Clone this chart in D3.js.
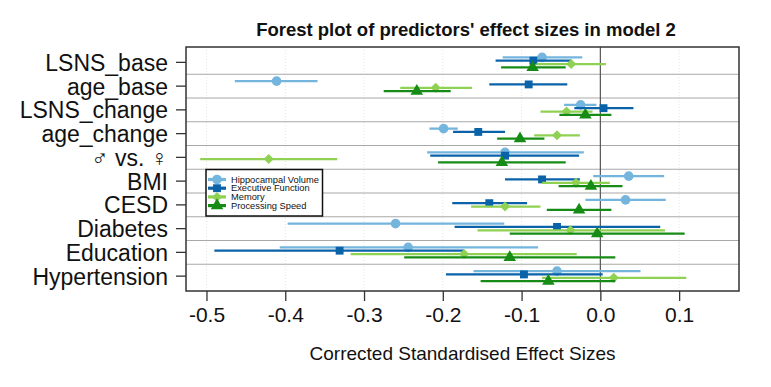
<!DOCTYPE html>
<html>
<head>
<meta charset="utf-8">
<script src="https://cdn.jsdelivr.net/npm/d3@7"></script>
<style>
body { margin: 0; background: #fff; }
svg { font-family: "Liberation Sans", Arial, Helvetica, sans-serif; }
</style>
</head>
<body>
<div id="charts"></div>
<script>
// predictors, top to bottom
var categories = ['LSNS_base', 'age_base', 'LSNS_change', 'age_change', '\u2642 vs. \u2640', 'BMI', 'CESD', 'Diabetes', 'Education', 'Hypertension'];
var seriesNames = ['Hippocampal Volume', 'Executive Function', 'Memory', 'Processing Speed'];
var xTicks = [-0.5, -0.4, -0.3, -0.2, -0.1, 0.0, 0.1];

// estimates and interval ends, one value per predictor
var hippoEst = [-0.074, -0.411, -0.025, -0.199, -0.121, 0.036, 0.032, -0.260, -0.244, -0.055];
var hippoLo  = [-0.124, -0.464, -0.046, -0.217, -0.220, -0.009, -0.019, -0.397, -0.407, -0.161];
var hippoHi  = [-0.023, -0.359, -0.005, -0.181, -0.021, 0.081, 0.083, -0.122, -0.079, 0.051];

var execEst = [-0.085, -0.091, 0.004, -0.155, -0.121, -0.074, -0.141, -0.055, -0.331, -0.097];
var execLo  = [-0.133, -0.141, -0.033, -0.187, -0.216, -0.121, -0.188, -0.185, -0.490, -0.196];
var execHi  = [-0.036, -0.042, 0.042, -0.121, -0.027, -0.026, -0.093, 0.076, -0.173, 0.003];

var memEst = [-0.037, -0.209, -0.043, -0.055, -0.421, -0.031, -0.121, -0.038, -0.173, 0.017];
var memLo  = [-0.081, -0.254, -0.076, -0.084, -0.508, -0.074, -0.164, -0.156, -0.317, -0.074];
var memHi  = [0.007, -0.163, -0.010, -0.026, -0.334, 0.012, -0.076, 0.082, -0.030, 0.109];

var speedEst = [-0.086, -0.233, -0.019, -0.102, -0.125, -0.012, -0.027, -0.004, -0.115, -0.066];
var speedLo  = [-0.126, -0.275, -0.052, -0.131, -0.206, -0.053, -0.068, -0.115, -0.249, -0.152];
var speedHi  = [-0.044, -0.190, 0.014, -0.071, -0.044, 0.028, 0.014, 0.107, 0.019, 0.019];

var colors = ['#74b5de', '#0a62a9', '#8fd152', '#168c16'];
var shapes = [d3.symbolCircle, d3.symbolSquare, d3.symbolSquare, d3.symbolTriangle];
var sizes = [72, 62, 50, 68];
var rotations = [0, 0, 45, 0];
var offsets = [-5, -1.7, 1.7, 5];

var allData = [
    { est: hippoEst, lo: hippoLo, hi: hippoHi },
    { est: execEst, lo: execLo, hi: execHi },
    { est: memEst, lo: memLo, hi: memHi },
    { est: speedEst, lo: speedLo, hi: speedHi }
].map(function(s, i) {
    return {
        name: seriesNames[i],
        points: categories.map(function(c, j) {
            return { cat: c, est: s.est[j], lo: s.lo[j], hi: s.hi[j] };
        })
    };
});

var W = 771, H = 387;
var margin = { top: 47, right: 32, bottom: 96, left: 186 },
width = W - margin.left - margin.right,
height = H - margin.top - margin.bottom;

var svg = d3.select('#charts')
.append('svg')
.attr('width', W)
.attr('height', H);

var g = svg.append('g')
.attr('transform', 'translate(' + margin.left + ',' + margin.top + ')');

var x = d3.scaleLinear()
.domain([-0.526, 0.176])
.range([0, width]);

var y = d3.scaleBand()
.domain(categories)
.range([3.5, height - 3]);

// faint vertical grid
g.selectAll('.vgrid')
.data(xTicks)
.enter().append('line')
.attr('x1', function(d) { return x(d); })
.attr('x2', function(d) { return x(d); })
.attr('y1', 0)
.attr('y2', height)
.style('stroke', '#e4e4e4')
.style('stroke-width', 1)
.style('stroke-dasharray', '1,2');

// row separators
g.selectAll('.hgrid')
.data(categories.slice(1))
.enter().append('line')
.attr('x1', 0)
.attr('x2', width)
.attr('y1', function(d) { return y(d); })
.attr('y2', function(d) { return y(d); })
.style('stroke', '#a8a8a8')
.style('stroke-width', 1.2);

// zero line
g.append('line')
.attr('x1', x(0))
.attr('x2', x(0))
.attr('y1', 0)
.attr('y2', height)
.style('stroke', '#555')
.style('stroke-width', 1.2);

allData.forEach(function(series, i) {
    var rowY = function(d) { return y(d.cat) + y.bandwidth() / 2 + offsets[i]; };

    g.selectAll('.ci' + i)
        .data(series.points)
        .enter().append('line')
        .attr('x1', function(d) { return x(d.lo); })
        .attr('x2', function(d) { return x(d.hi); })
        .attr('y1', rowY)
        .attr('y2', rowY)
        .style('stroke', colors[i])
        .style('stroke-width', 2.3);

    g.selectAll('.pt' + i)
        .data(series.points)
        .enter().append('path')
        .attr('d', d3.symbol().type(shapes[i]).size(sizes[i]))
        .attr('transform', function(d) {
            return 'translate(' + x(d.est) + ',' + rowY(d) + ') rotate(' + rotations[i] + ')';
        })
        .style('fill', colors[i]);
});

// frame
g.append('rect')
.attr('width', width)
.attr('height', height)
.style('fill', 'none')
.style('stroke', '#333')
.style('stroke-width', 1.5);

var xAxis = g.append('g')
.attr('transform', 'translate(0,' + height + ')')
.call(d3.axisBottom(x).tickValues(xTicks).tickSize(10).tickPadding(6)
    .tickFormat(function(d) { return d3.format('.1f')(d).replace('\u2212', '-'); }));
xAxis.select('.domain').remove();
xAxis.selectAll('line').style('stroke', '#333').style('stroke-width', 1.3);
xAxis.selectAll('text')
.style('font-size', '21px')
.style('fill', '#111')
.style('font-family', '"Liberation Sans", Arial, sans-serif');

var yAxis = g.append('g')
.call(d3.axisLeft(y).tickSize(10).tickPadding(8));
yAxis.select('.domain').remove();
yAxis.selectAll('line').style('stroke', '#333').style('stroke-width', 1.3);
yAxis.selectAll('text')
.style('font-size', '23px')
.style('fill', '#111')
.attr('dy', '0.37em')
.style('font-family', '"Liberation Sans", Arial, sans-serif');

// titles
svg.append('text')
.attr('x', 466)
.attr('y', 36)
.attr('text-anchor', 'middle')
.style('font-size', '18.5px')
.style('font-weight', 'bold')
.style('fill', '#111')
.text("Forest plot of predictors' effect sizes in model 2");

svg.append('text')
.attr('x', margin.left + width / 2)
.attr('y', 360)
.attr('text-anchor', 'middle')
.style('font-size', '19px')
.style('fill', '#111')
.text('Corrected Standardised Effect Sizes');

// legend
var legend = svg.append('g')
.attr('transform', 'translate(206,169.5)');

legend.append('rect')
.attr('width', 116.5)
.attr('height', 46.5)
.style('fill', '#fff')
.style('stroke', '#111')
.style('stroke-width', 1.5);

seriesNames.forEach(function(name, i) {
    var ly = 10 + i * 8.7;
    legend.append('line')
        .attr('x1', 2)
        .attr('x2', 20)
        .attr('y1', ly)
        .attr('y2', ly)
        .style('stroke', colors[i])
        .style('stroke-width', 3.2);
    legend.append('path')
        .attr('d', d3.symbol().type(shapes[i]).size(sizes[i]))
        .attr('transform', 'translate(11,' + ly + ') rotate(' + rotations[i] + ')')
        .style('fill', colors[i]);
    legend.append('text')
        .attr('x', 25)
        .attr('y', ly)
        .attr('dy', '.35em')
        .style('font-size', '9.3px')
        .style('fill', '#111')
        .text(name);
});
</script>
</body>
</html>
